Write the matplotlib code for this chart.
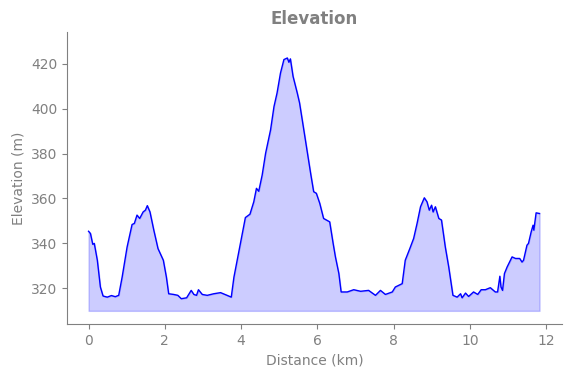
import matplotlib
matplotlib.use("Agg")
import matplotlib.pyplot as plt

distance_km = [
    0.00, 0.05, 0.11, 0.15, 0.23, 0.31, 0.38, 0.49, 0.60, 0.70, 0.79, 0.88,
    1.01, 1.14, 1.20, 1.27, 1.34, 1.43, 1.49, 1.54, 1.61, 1.71, 1.82, 1.96,
    2.04, 2.10, 2.23, 2.34, 2.43, 2.57, 2.69, 2.76, 2.83, 2.88, 2.98, 3.11,
    3.28, 3.46, 3.63, 3.74, 3.81, 3.98, 4.11, 4.23, 4.33, 4.40, 4.46, 4.55,
    4.64, 4.77, 4.86, 4.94, 5.03, 5.12, 5.21, 5.25, 5.29, 5.36, 5.47, 5.53,
    5.60, 5.71, 5.82, 5.90, 5.97, 6.06, 6.16, 6.32, 6.41, 6.47, 6.56, 6.62,
    6.78, 6.95, 7.13, 7.34, 7.52, 7.65, 7.78, 7.96, 8.04, 8.22, 8.30, 8.42,
    8.52, 8.61, 8.70, 8.80, 8.87, 8.93, 8.99, 9.03, 9.09, 9.18, 9.25, 9.35,
    9.44, 9.55, 9.66, 9.75, 9.79, 9.88, 9.96, 10.09, 10.20, 10.29, 10.40,
    10.53, 10.66, 10.72, 10.78, 10.81, 10.85, 10.90, 10.97, 11.10, 11.19,
    11.30, 11.36, 11.40, 11.49, 11.53, 11.60, 11.65, 11.67, 11.73, 11.82,
]
elevation_m = [
    345.4, 344.4, 339.6, 340.0, 332.5, 320.6, 316.6, 316.1, 316.8, 316.3, 316.9, 325.0,
    338.4, 348.4, 348.9, 352.6, 351.1, 354.0, 354.8, 356.8, 354.0, 345.9, 337.7, 332.5,
    325.0, 317.6, 317.3, 316.9, 315.4, 315.8, 319.1, 317.3, 316.9, 319.4, 317.3, 316.9,
    317.6, 318.1, 316.9, 316.1, 325.0, 340.0, 351.5, 353.0, 358.5, 364.5, 363.2, 370.4,
    380.1, 390.5, 400.9, 406.9, 415.8, 421.8, 422.5, 420.6, 422.1, 414.3, 406.9, 402.5,
    395.0, 383.1, 371.2, 363.0, 362.3, 357.8, 351.1, 349.6, 340.0, 334.0, 326.6, 318.4,
    318.4, 319.4, 318.7, 319.1, 316.9, 319.1, 317.3, 318.4, 320.6, 322.1, 332.5, 337.7,
    342.2, 348.9, 356.3, 360.3, 358.5, 354.8, 357.0, 354.0, 356.3, 351.1, 350.4, 338.4,
    329.5, 316.9, 316.1, 317.6, 315.8, 317.9, 316.4, 318.4, 317.3, 319.4, 319.4,
    320.3, 318.4, 318.4, 325.4, 320.6, 319.1, 326.6, 329.5, 334.0, 333.3,
    333.3, 331.7, 332.5, 339.2, 340.0, 345.1, 348.1, 345.9, 353.6, 353.3,
]
baseline = 310

fig = plt.figure(figsize=(5.71, 3.78), dpi=100)
ax = fig.add_axes([0.117, 0.142, 0.868, 0.773])

ax.plot(distance_km, elevation_m, color="blue", linewidth=1)
ax.fill_between(distance_km, elevation_m, baseline, color="blue", alpha=0.2)

ax.set_xlim(-0.57, 12.42)
ax.set_ylim(304, 434)
ax.set_xticks([0, 2, 4, 6, 8, 10, 12])
ax.set_yticks([320, 340, 360, 380, 400, 420])

gray = "#808080"
ax.set_title("Elevation", color=gray, fontsize=12, fontweight="bold")
ax.set_xlabel("Distance (km)", color=gray)
ax.set_ylabel("Elevation (m)", color=gray)
ax.tick_params(colors=gray)
for side in ["top", "right"]:
    ax.spines[side].set_visible(False)
for side in ["left", "bottom"]:
    ax.spines[side].set_color(gray)

fig.savefig("out.png", dpi=100)
